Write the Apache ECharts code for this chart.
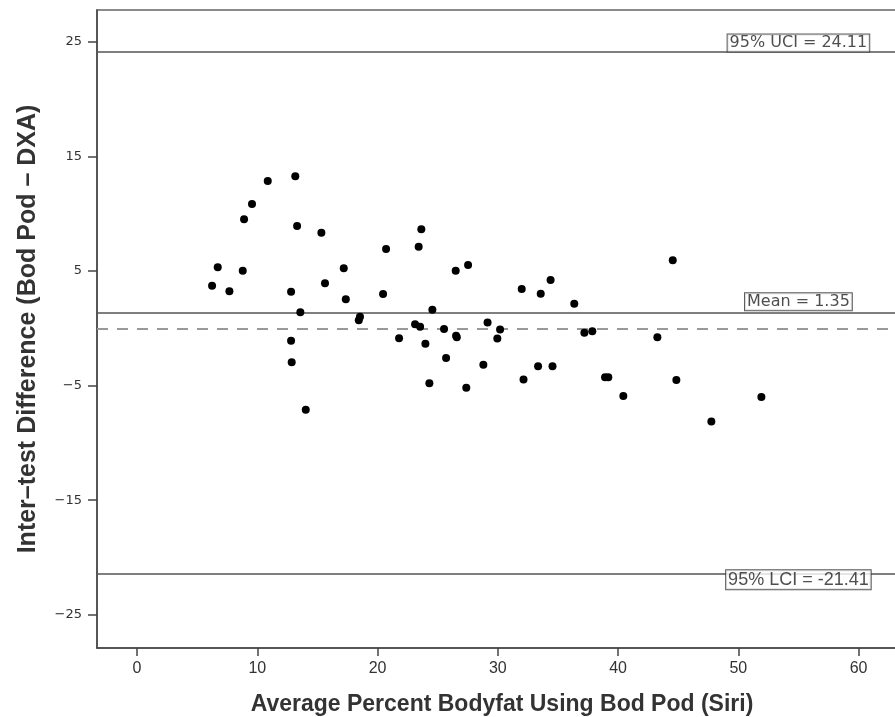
<!DOCTYPE html>
<html><head><meta charset="utf-8">
<script src="https://cdn.jsdelivr.net/npm/echarts@6/dist/echarts.min.js"></script>
<style>html,body{margin:0;padding:0;background:#fff}#c{width:895px;height:717px}</style>
</head><body><div id="c"></div>
<script>
// Average percent bodyfat (x) and inter-test difference (y)
const avgBodyfat = [6.24,6.71,7.68,8.79,8.90,9.56,10.87,13.16,13.31,12.81,13.58,12.81,12.86,14.03,15.33,15.63,17.19,17.36,18.54,18.44,20.71,20.46,23.64,23.42,24.56,23.12,23.54,21.79,23.98,25.53,26.53,26.59,25.70,24.31,26.50,27.53,27.38,28.80,29.15,30.19,29.96,31.99,33.57,34.39,36.36,37.20,37.86,32.14,33.35,34.55,38.92,39.19,40.44,43.27,44.55,44.85,47.76,51.92];
const difference = [3.72,5.32,3.23,5.03,9.51,10.85,12.85,13.26,8.93,3.19,1.40,-1.08,-2.97,-7.10,8.34,3.93,5.24,2.53,1.01,0.70,6.92,2.99,8.64,7.12,1.62,0.35,0.14,-0.87,-1.34,-0.06,-0.65,-0.79,-2.59,-4.80,5.03,5.52,-5.18,-3.18,0.51,-0.10,-0.89,3.43,3.02,4.21,2.14,-0.38,-0.26,-4.47,-3.32,-3.32,-4.28,-4.28,-5.91,-0.79,5.93,-4.51,-8.12,-5.99];
const xTicks = [0,10,20,30,40,50,60];
const yTicks = [-25,-15,-5,5,15,25];
const refValues = [24.11, 1.35, -21.41];
const refLabels = ['95% UCI = 24.11', 'Mean = 1.35', '95% LCI = -21.41'];
const zeroLine = 0;
const labelX = 55;

const points = avgBodyfat.map((x, i) => [x, difference[i]]);
const labelOffsets = [[0, -9], [0, -11], [0, 6]];
const labelFonts = [
  {fontFamily: 'DejaVu Sans', fontSize: 16},
  {fontFamily: 'DejaVu Sans', fontSize: 16},
  {fontFamily: '"Liberation Sans Narrow", "Liberation Sans"', fontSize: 18}
];
const labelData = refValues.map((v, i) => ({
  value: [labelX, v],
  label: Object.assign({
    show: true, position: 'inside', offset: labelOffsets[i],
    formatter: refLabels[i], color: '#222',
    backgroundColor: '#fff', borderColor: '#333', borderWidth: 1,
    padding: [1, 2, 0, 2]
  }, labelFonts[i])
}));

const chart = echarts.init(document.getElementById('c'), null, {renderer: 'canvas'});
chart.setOption({
  backgroundColor: '#fff',
  animation: false,
  grid: {left: 97, top: 10, width: 810, height: 638, show: true, borderColor: '#666', borderWidth: 1.5,
    backgroundColor: 'transparent', containLabel: false, outerBoundsMode: 'none'},
  xAxis: {
    type: 'value', min: -3.33, max: 64.03,
    name: 'Average Percent Bodyfat Using Bod Pod (Siri)',
    nameLocation: 'middle', nameGap: 45,
    nameTextStyle: {fontFamily: '"Liberation Sans Narrow", "Liberation Sans"', fontSize: 23, fontWeight: 'bold', color: '#333'},
    axisLine: {show: true, onZero: false, lineStyle: {color: '#444', width: 1.5}},
    axisTick: {show: true, length: 8, customValues: xTicks, lineStyle: {color: '#444', width: 1.5}},
    axisLabel: {customValues: xTicks, margin: 13, fontFamily: '"Liberation Sans Narrow", "Liberation Sans"', fontSize: 16, color: '#333'},
    splitLine: {show: false}
  },
  yAxis: {
    type: 'value', min: -27.89, max: 27.77,
    name: 'Inter\u2013test Difference (Bod Pod \u2013 DXA)',
    nameLocation: 'middle', nameGap: 56, nameRotate: 90,
    nameTextStyle: {fontFamily: '"Liberation Sans Narrow", "Liberation Sans"', fontSize: 25, fontWeight: 'bold', color: '#333'},
    axisLine: {show: true, onZero: false, lineStyle: {color: '#444', width: 1.5}},
    axisTick: {show: true, length: 9, customValues: yTicks, lineStyle: {color: '#444', width: 1.5}},
    axisLabel: {customValues: yTicks, margin: 15, fontFamily: 'DejaVu Sans', fontSize: 13, color: '#333',
      formatter: v => String(v).replace('-', '\u2212')},
    splitLine: {show: false}
  },
  series: [
    {
      type: 'scatter', data: points, symbolSize: 8,
      itemStyle: {color: '#000', opacity: 1}, z: 5,
      markLine: {
        silent: true, symbol: 'none', label: {show: false},
        data: refValues.map(v => ({yAxis: v, lineStyle: {color: '#555', width: 1.5, type: 'solid'}}))
          .concat([{yAxis: zeroLine, lineStyle: {color: '#999', width: 2, type: [11, 9]}}])
      }
    },
    {
      type: 'scatter', data: labelData, symbolSize: 0, z: 10, silent: true
    }
  ]
});
</script>
</body></html>
